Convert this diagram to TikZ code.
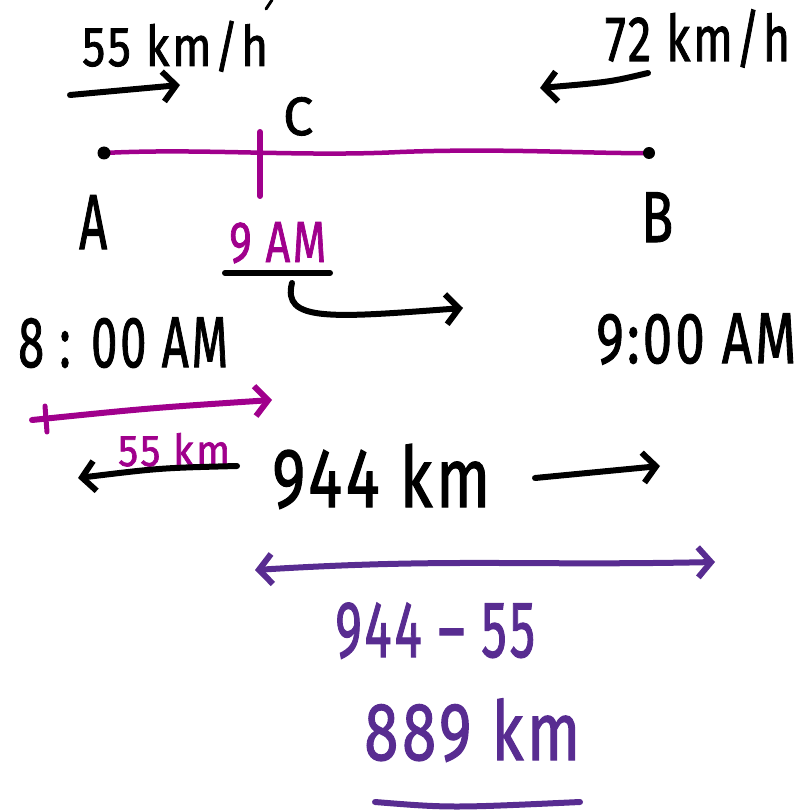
\documentclass[tikz,border=0pt]{standalone}
\usepackage{fontspec}
\setmainfont{Fira Sans}
\newfontfamily\hand[LetterSpace=6,FakeBold=1.6]{Fira Sans}
\usetikzlibrary{arrows.meta}
\definecolor{mag}{RGB}{160,0,140}
\definecolor{pur}{RGB}{88,44,145}
\newcommand\hw[3]{\resizebox{#1pt}{\height}{\fontsize{#2}{#2}\hand #3}}
\begin{document}
\begin{tikzpicture}[x=1pt,y=-1pt,
  txt/.style={inner sep=0pt,anchor=base west},
  ink/.style={line width=6pt,line cap=round,line join=round},
  barb/.style={-{Straight Barb[length=13pt,width=30pt]}},
  dbarb/.style={{Straight Barb[length=13pt,width=30pt]}-{Straight Barb[length=13pt,width=30pt]}}]
\useasboundingbox (0,0) rectangle (803,810);
% stray mark
\coordinate (s1) at (266,9); \coordinate (s2) at (272,0);
\draw[ink,line width=3pt] (s1) -- (s2);
% speeds
\node[txt] (v1) at (82,66) {\hw{186}{56}{55 km/h}};
\node[txt] (v2) at (605,61) {\hw{185}{64}{72 km/h}};
\coordinate (a1s) at (70,95); \coordinate (a1e) at (180,85);
\draw[ink,barb] (a1s) -- (a1e);
\coordinate (a2s) at (648,73); \coordinate (a2e) at (540,88);
\draw[ink,barb] (a2s) .. controls (610,82) .. (a2e);
% segment
\coordinate (A) at (104,153); \coordinate (B) at (649,153);
\draw[mag,line width=4.5pt,line cap=round] (A) .. controls (200,148) and (300,157) .. (400,152) .. controls (500,148) and (600,154) .. (B);
\fill (A) circle (6.5); \fill (B) circle (6);
\coordinate (c1) at (260,132); \coordinate (c2) at (260,196);
\draw[mag,line width=6pt,line cap=round] (c1) -- (c2);
\node[txt] (C) at (283,135) {\hw{30}{54}{C}};
\node[txt] (la) at (79,249) {\hw{28}{78}{A}};
\node[txt] (lb) at (641,242) {\hw{32}{72}{B}};
% 9 AM
\node[txt,text=mag] (t9) at (229,262) {\hw{97}{58}{9 AM}};
\coordinate (u1) at (225,273); \coordinate (u2) at (330,273);
\draw[ink] (u1) -- (u2);
\coordinate (k1) at (292,283); \coordinate (k2) at (463,308);
\draw[ink,barb] (k1) .. controls (282,322) and (330,318) .. (k2);
% times
\node[txt] (t8) at (18,367) {\hw{210}{72}{8 : 00 AM}};
\node[txt] (t9b) at (596,363) {\hw{200}{72}{9:00 AM}};
% 55 km
\coordinate (m1) at (32,420); \coordinate (m2) at (272,400);
\draw[mag,line width=6pt,line cap=round,barb] (m1) .. controls (150,408) .. (m2);
\coordinate (mt1) at (45,406); \coordinate (mt2) at (47,432);
\draw[mag,line width=5pt,line cap=round] (mt1) -- (mt2);
\node[txt,text=mag] (d55) at (118,466) {\hw{112}{44}{55 km}};
\coordinate (b1) at (237,466); \coordinate (b2) at (78,478);
\draw[ink,barb] (b1) .. controls (160,468) .. (b2);
% 944 km
\node[txt] (d944) at (272,507) {\hw{218}{84}{944 km}};
\coordinate (r1) at (535,478); \coordinate (r2) at (660,466);
\draw[ink,barb] (r1) -- (r2);
% purple
\coordinate (p1) at (255,570); \coordinate (p2) at (715,562);
\draw[pur,line width=6pt,line cap=round,dbarb] (p1) .. controls (450,558) and (520,566) .. (p2);
\node[txt,text=pur] (sub) at (335,657) {\hw{200}{80}{944 – 55}};
\node[txt,text=pur] (res) at (364,760) {\hw{216}{82}{889 km}};
\coordinate (q1) at (375,802); \coordinate (q2) at (580,802);
\draw[pur,line width=6pt,line cap=round] (q1) .. controls (450,808) .. (q2);
\end{tikzpicture}
\end{document}
